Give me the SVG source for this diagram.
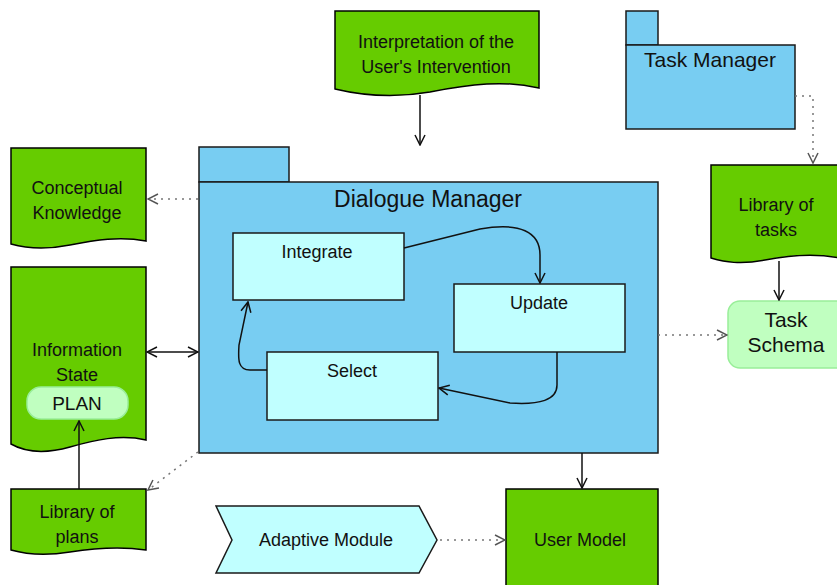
<svg xmlns="http://www.w3.org/2000/svg" width="837" height="585" viewBox="0 0 837 585">
<style>
.doc{fill:#66cc00;stroke:#000;stroke-width:1.5}
.pkg{fill:#78cdf2;stroke:#1a1a1a;stroke-width:1.5}
.box{fill:#c0ffff;stroke:#1a1a1a;stroke-width:1.5}
.pill{fill:#c0ffc0;stroke:#99ee99;stroke-width:1.5}
text{font-family:"Liberation Sans",Arial,sans-serif;font-size:18px;fill:#111;text-anchor:middle}
.solid{fill:none;stroke:#111;stroke-width:1.5}
.dot{fill:none;stroke:#777;stroke-width:1.5;stroke-dasharray:2 5}
</style>
<defs>
<marker id="open" viewBox="0 0 12 12" refX="11" refY="6" markerWidth="12" markerHeight="12" markerUnits="userSpaceOnUse" orient="auto-start-reverse">
<path d="M1,1 L11,6 L1,11" fill="none" stroke="#111" stroke-width="1.5"/>
</marker>
<marker id="openg" viewBox="0 0 12 12" refX="11" refY="6" markerWidth="12" markerHeight="12" markerUnits="userSpaceOnUse" orient="auto-start-reverse">
<path d="M1,1 L11,6 L1,11" fill="none" stroke="#555" stroke-width="1.5"/>
</marker>
</defs>

<g id="dialogue-manager">
<rect class="pkg" x="199" y="147" width="90" height="35"/>
<rect class="pkg" x="199" y="182" width="459" height="271"/>
<text x="428" y="207" style="font-size:23px">Dialogue Manager</text>
</g>
<g id="integrate">
<rect class="box" x="233" y="233" width="171" height="67"/>
<text x="317" y="258">Integrate</text>
</g>
<g id="update">
<rect class="box" x="454" y="284" width="171" height="68"/>
<text x="539" y="309">Update</text>
</g>
<g id="select">
<rect class="box" x="267" y="352" width="171" height="68"/>
<text x="352" y="377">Select</text>
</g>

<g id="interpretation">
<path class="doc" d="M335,11 H539 V88 C505,80 470,84 430,92 C390,99 360,95 335,89 Z"/>
<text x="436" y="48">Interpretation of the</text>
<text x="436" y="73">User's Intervention</text>
</g>
<g id="task-manager">
<rect class="pkg" x="626" y="11" width="32" height="34"/>
<rect class="pkg" x="626" y="45" width="169" height="84"/>
<text x="710" y="67" style="font-size:21px">Task Manager</text>
</g>
<g id="library-tasks">
<path class="doc" d="M711,165 H840 V258 C815,253 790,255 765,260 C740,265 725,262 711,258 Z"/>
<text x="776" y="211">Library of</text>
<text x="776" y="236">tasks</text>
</g>
<g id="task-schema">
<rect class="pill" x="728" y="301" width="120" height="67" rx="12"/>
<text x="786" y="327" style="font-size:21px">Task</text>
<text x="786" y="352" style="font-size:21px">Schema</text>
</g>
<g id="conceptual">
<path class="doc" d="M11,148 H146 V241 C120,236 95,240 70,245 C45,250 25,248 11,244 Z"/>
<text x="77" y="194">Conceptual</text>
<text x="77" y="219">Knowledge</text>
</g>
<g id="information-state">
<path class="doc" d="M11,267 H146 V440 C120,434 95,440 70,447 C45,454 25,452 11,444 Z"/>
<text x="77" y="356">Information</text>
<text x="77" y="381">State</text>
<rect class="pill" x="27" y="387" width="101" height="32" rx="14"/>
<text x="77" y="410" style="font-size:19px">PLAN</text>
</g>
<g id="library-plans">
<path class="doc" d="M11,489 H146 V550 C120,546 95,548 70,552 C45,556 25,554 11,550 Z"/>
<text x="77" y="518">Library of</text>
<text x="77" y="543">plans</text>
</g>
<g id="adaptive-module">
<path class="box" d="M216,506 H419 L437,540 L419,573 H216 L232,540 Z"/>
<text x="326" y="546">Adaptive Module</text>
</g>
<g id="user-model">
<path class="doc" d="M506,489 H658 V590 H506 Z"/>
<text x="580" y="546">User Model</text>
</g>

<g id="connectors">
<path class="solid" d="M420,95 V145" marker-end="url(#open)"/>
<path class="dot" d="M795,96 H813 V163" marker-end="url(#openg)"/>
<path class="solid" d="M779,261 V300" marker-end="url(#open)"/>
<path class="dot" d="M658,335 H727" marker-end="url(#openg)"/>
<path class="dot" d="M198,199 H148" marker-end="url(#openg)"/>
<path class="solid" d="M147,352 H198" marker-start="url(#open)" marker-end="url(#open)"/>
<path class="solid" d="M79,489 V421" marker-end="url(#open)"/>
<path class="dot" d="M198,452 L148,490" marker-end="url(#openg)"/>
<path class="solid" d="M582,453 V488" marker-end="url(#open)"/>
<path class="dot" d="M440,540 H505" marker-end="url(#openg)"/>
<path class="solid" d="M404,248 L480,229 C520,222 540,232 540,255 V283" marker-end="url(#open)"/>
<path class="solid" d="M557,352 V385 C557,400 540,405 510,403 L439,388" marker-end="url(#open)"/>
<path class="solid" d="M267,370 H250 C238,370 238,360 239,345 L248,302" marker-end="url(#open)"/>
</g>
</svg>
